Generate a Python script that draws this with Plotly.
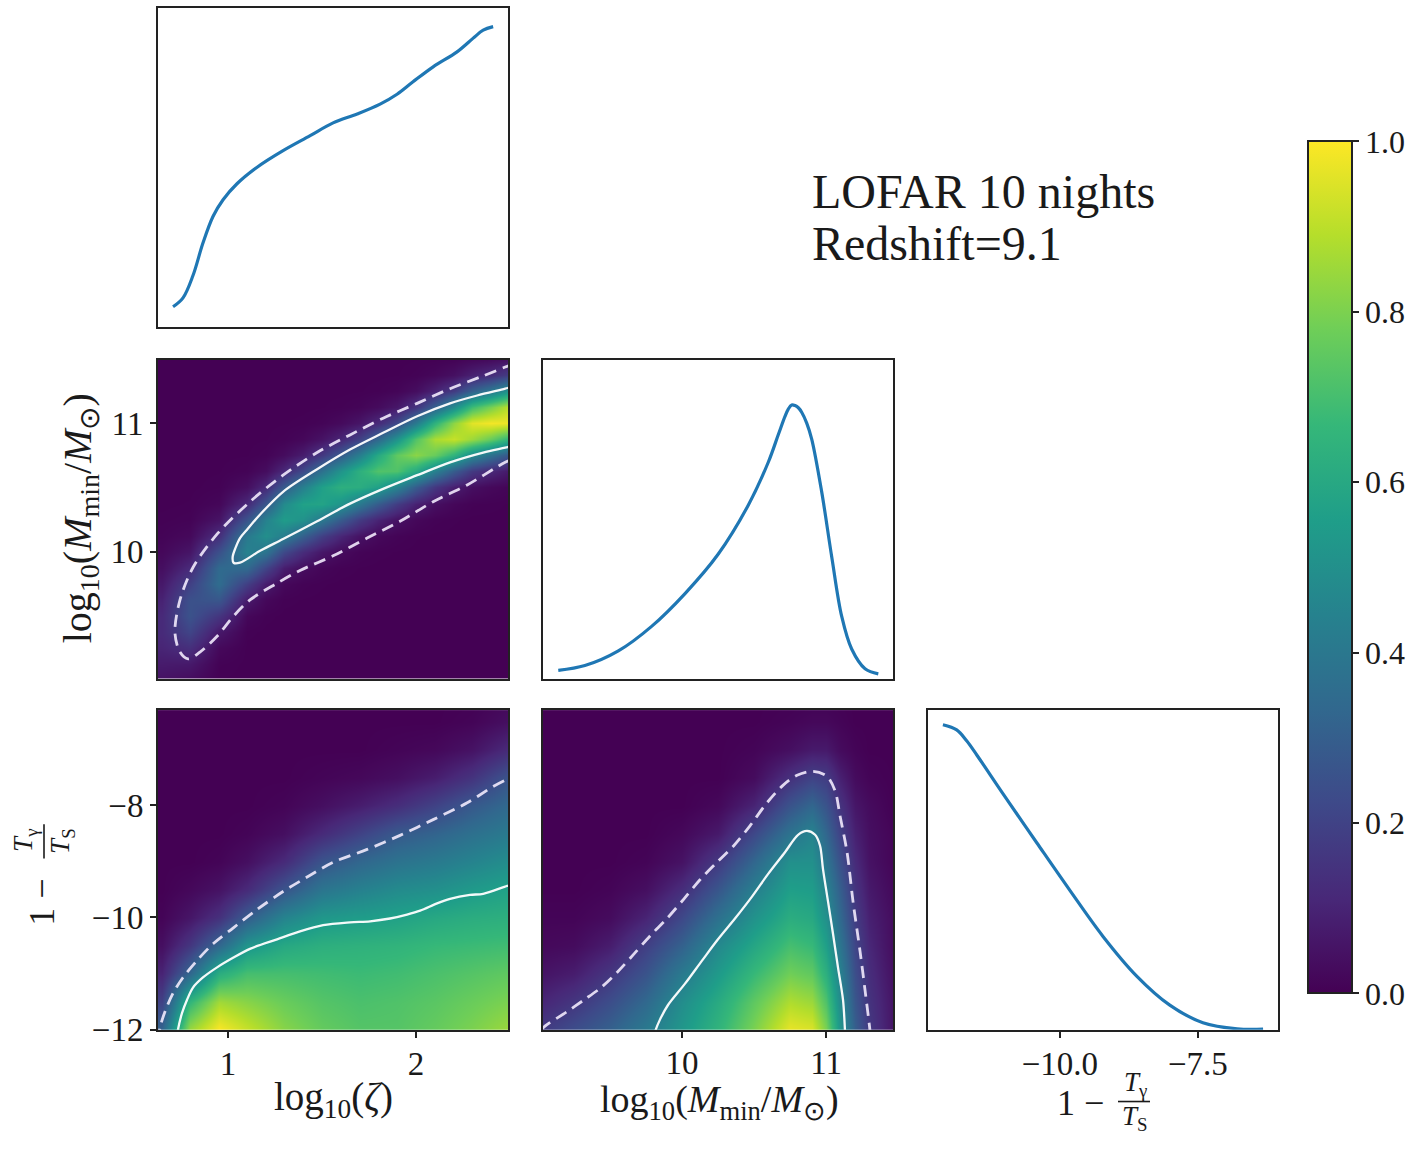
import plotly.graph_objects as go

W, H = 1413, 1152
FONT = "Liberation Serif"
INK = "#1a1a1a"
BLUE = "#1f77b4"

# ---------------- 1D marginals ----------------
zeta_1d_x = [0.708, 0.761, 0.814, 0.867, 0.921, 0.974, 1.048, 1.155, 1.293, 1.437,
             1.559, 1.687, 1.809, 1.899, 1.984, 2.091, 2.218, 2.304, 2.357, 2.41]
zeta_1d_y = [0.062, 0.090, 0.160, 0.262, 0.346, 0.398, 0.448, 0.500, 0.552, 0.599,
             0.639, 0.667, 0.698, 0.729, 0.768, 0.815, 0.862, 0.905, 0.930, 0.941]

mmin_1d_x = [9.141, 9.326, 9.558, 9.789, 10.021, 10.252, 10.461, 10.599, 10.669, 10.715,
             10.738, 10.762, 10.785, 10.808, 10.831, 10.866, 10.901, 10.970, 11.040,
             11.109, 11.178, 11.271, 11.363]
mmin_1d_y = [0.026, 0.041, 0.087, 0.164, 0.267, 0.391, 0.545, 0.679, 0.766, 0.823,
             0.846, 0.859, 0.857, 0.850, 0.836, 0.802, 0.751, 0.586, 0.381,
             0.195, 0.093, 0.031, 0.015]

tt_1d_x = [-12.12, -11.87, -11.69, -11.50, -11.03, -10.42, -9.82, -9.22, -8.61, -8.01,
           -7.41, -6.79, -6.32]
tt_1d_y = [0.954, 0.938, 0.904, 0.858, 0.738, 0.585, 0.436, 0.292, 0.168, 0.077,
           0.022, 0.003, 0.002]

# ---------------- 2D: log zeta vs log Mmin ----------------
zm_x = [0.65, 0.8, 0.95, 1.1, 1.2, 1.3, 1.4, 1.5, 1.6, 1.7, 1.8, 1.9, 2.0, 2.1, 2.2,
        2.3, 2.4, 2.49]
zm_y = [9.0, 9.125, 9.25, 9.375, 9.5, 9.625, 9.75, 9.875, 10.0, 10.125, 10.25, 10.375,
        10.5, 10.625, 10.75, 10.875, 11.0, 11.125, 11.25, 11.375, 11.5]
zm_z = [
    [.045, .028, .001, 0, 0, 0, 0, 0, 0, 0, 0, 0, 0, 0, 0, 0, 0, 0],
    [.074, .068, .005, 0, 0, 0, 0, 0, 0, 0, 0, 0, 0, 0, 0, 0, 0, 0],
    [.102, .133, .021, 0, 0, 0, 0, 0, 0, 0, 0, 0, 0, 0, 0, 0, 0, 0],
    [.119, .207, .066, .003, 0, 0, 0, 0, 0, 0, 0, 0, 0, 0, 0, 0, 0, 0],
    [.116, .255, .154, .018, .003, 0, 0, 0, 0, 0, 0, 0, 0, 0, 0, 0, 0, 0],
    [.095, .249, .27, .07, .019, .003, .001, 0, 0, 0, 0, 0, 0, 0, 0, 0, 0, 0],
    [.066, .193, .352, .185, .074, .019, .006, .002, 0, 0, 0, 0, 0, 0, 0, 0, 0, 0],
    [.038, .119, .341, .342, .203, .078, .034, .013, .004, .001, 0, 0, 0, 0, 0, 0, 0, 0],
    [.019, .058, .247, .446, .382, .221, .124, .06, .026, .009, .003, .001, 0, 0, 0, 0, 0, 0],
    [.008, .022, .133, .406, .496, .423, .305, .188, .104, .049, .021, .008, .002, 0, 0, 0, 0, 0],
    [.003, .007, .053, .26, .444, .547, .507, .4, .283, .172, .097, .046, .018, .006, .002, 0, 0, 0],
    [0, .002, .016, .117, .274, .479, .57, .578, .516, .4, .289, .179, .09, .039, .016, .005, .003, .001],
    [0, 0, .004, .037, .116, .284, .434, .564, .63, .619, .563, .446, .29, .161, .084, .039, .021, .011],
    [0, 0, .001, .008, .034, .114, .224, .373, .516, .634, .72, .719, .607, .436, .291, .171, .112, .07],
    [0, 0, 0, .001, .007, .031, .078, .167, .283, .431, .602, .751, .823, .766, .645, .479, .37, .273],
    [0, 0, 0, 0, .001, .006, .018, .05, .104, .194, .331, .509, .722, .872, .914, .851, .764, .657],
    [0, 0, 0, 0, 0, .001, .003, .01, .026, .058, .119, .222, .411, .644, .828, .957, .985, .975],
    [0, 0, 0, 0, 0, 0, 0, .001, .004, .011, .028, .063, .151, .308, .481, .683, .793, .895],
    [0, 0, 0, 0, 0, 0, 0, 0, 0, .001, .004, .012, .036, .096, .178, .309, .399, .506],
    [0, 0, 0, 0, 0, 0, 0, 0, 0, 0, 0, .001, .006, .019, .042, .089, .126, .177],
    [0, 0, 0, 0, 0, 0, 0, 0, 0, 0, 0, 0, .001, .002, .006, .016, .025, .038],
]
zm_solid_x = [2.52, 2.474, 2.325, 2.181, 2.006, 1.825, 1.649, 1.474, 1.293, 1.171, 1.1, 1.064,
              1.04, 1.025, 1.03, 1.064, 1.171, 1.293, 1.474, 1.649, 1.825, 2.006, 2.181,
              2.357, 2.474, 2.52]
zm_solid_y = [11.285, 11.267, 11.214, 11.153, 11.053, 10.924, 10.794, 10.641, 10.466, 10.29,
              10.17, 10.107, 10.03, 9.96, 9.915, 9.916, 10.008, 10.099, 10.237, 10.374,
              10.489, 10.595, 10.695, 10.771, 10.809, 10.825]
zm_dash_x = [2.52, 2.474, 2.357, 2.181, 2.006, 1.825, 1.649, 1.474, 1.293, 1.117, 0.942,
             0.814, 0.745, 0.718, 0.745, 0.788, 0.851, 0.942, 1.027, 1.117, 1.261, 1.383,
             1.559, 1.74, 1.915, 2.091, 2.272, 2.474, 2.52]
zm_dash_y = [11.46, 11.435, 11.366, 11.267, 11.153, 11.038, 10.908, 10.771, 10.595, 10.389,
             10.137, 9.878, 9.626, 9.374, 9.221, 9.168, 9.221, 9.344, 9.496, 9.626, 9.756,
             9.855, 9.969, 10.107, 10.237, 10.389, 10.519, 10.695, 10.72]

# ---------------- 2D: log zeta vs 1 - Tg/Ts ----------------
zt_x = [0.65, 0.8, 0.95, 1.1, 1.3, 1.5, 1.7, 1.9, 2.1, 2.3, 2.49]
zt_y = [-12, -11.5, -11, -10.5, -10, -9.5, -9, -8.5, -8, -7.5, -7, -6.5, -6]
zt_z = [
    [.32, .85, 1.0, .92, .82, .76, .73, .73, .76, .8, .85],
    [.2, .66, .86, .82, .77, .73, .71, .72, .74, .77, .8],
    [.1, .33, .62, .7, .7, .69, .68, .69, .71, .73, .75],
    [.04, .16, .33, .52, .6, .63, .64, .65, .67, .68, .69],
    [.01, .06, .14, .29, .45, .53, .55, .57, .6, .62, .63],
    [0, .02, .05, .12, .26, .39, .44, .48, .5, .54, .57],
    [0, 0, .01, .04, .12, .26, .33, .38, .41, .45, .49],
    [0, 0, 0, .01, .04, .12, .2, .28, .32, .37, .41],
    [0, 0, 0, 0, .01, .04, .08, .13, .2, .28, .34],
    [0, 0, 0, 0, 0, .01, .02, .04, .08, .15, .26],
    [0, 0, 0, 0, 0, 0, 0, .01, .02, .05, .12],
    [0, 0, 0, 0, 0, 0, 0, 0, 0, .01, .04],
    [0, 0, 0, 0, 0, 0, 0, 0, 0, 0, .01],
]
zt_solid_x = [0.725, 0.734, 0.756, 0.782, 0.814, 0.867, 0.942, 1.027, 1.117, 1.261, 1.383,
              1.506, 1.649, 1.756, 1.862, 1.952, 2.022, 2.112, 2.181, 2.287, 2.357, 2.485, 2.52]
zt_solid_y = [-12.2, -12.0, -11.7, -11.47, -11.25, -11.07, -10.89, -10.72, -10.56, -10.39,
              -10.25, -10.14, -10.09, -10.07, -10.02, -9.95, -9.88, -9.75, -9.67, -9.6,
              -9.58, -9.44, -9.41]
zt_dash_x = [0.63, 0.639, 0.665, 0.708, 0.761, 0.835, 0.921, 1.027, 1.155, 1.293, 1.437,
             1.559, 1.74, 1.915, 2.091, 2.272, 2.41, 2.485, 2.52]
zt_dash_y = [-12.2, -11.96, -11.68, -11.35, -11.07, -10.77, -10.47, -10.19, -9.86, -9.54,
             -9.25, -9.02, -8.79, -8.54, -8.26, -7.96, -7.67, -7.54, -7.5]

# ---------------- 2D: log Mmin vs 1 - Tg/Ts ----------------
mt_x = [9.0, 9.25, 9.5, 9.75, 10.0, 10.25, 10.5, 10.75, 10.9, 11.0, 11.1, 11.2, 11.3, 11.47]
mt_y = [-12, -11.5, -11, -10.5, -10, -9.5, -9, -8.5, -8, -7.5, -7, -6.5, -6]
mt_z = [
    [.17, .24, .31, .41, .53, .65, .8, .97, .95, .8, .52, .3, .17, .05],
    [.1, .16, .24, .34, .49, .61, .75, .88, .85, .72, .48, .27, .15, .05],
    [.05, .08, .16, .26, .41, .54, .67, .78, .75, .63, .44, .24, .13, .04],
    [.02, .03, .08, .19, .31, .47, .59, .7, .67, .56, .39, .21, .11, .03],
    [.01, .01, .03, .1, .22, .37, .51, .62, .6, .5, .34, .18, .09, .03],
    [0, 0, .01, .04, .13, .27, .43, .56, .55, .45, .3, .15, .07, .02],
    [0, 0, 0, .01, .05, .17, .33, .5, .5, .39, .25, .12, .05, .01],
    [0, 0, 0, 0, .02, .07, .22, .38, .45, .33, .2, .09, .04, .01],
    [0, 0, 0, 0, 0, .02, .1, .26, .33, .26, .15, .06, .03, 0],
    [0, 0, 0, 0, 0, 0, .03, .14, .2, .18, .09, .03, .01, 0],
    [0, 0, 0, 0, 0, 0, .01, .04, .07, .07, .03, .01, 0, 0],
    [0, 0, 0, 0, 0, 0, 0, .01, .02, .02, .01, 0, 0, 0],
    [0, 0, 0, 0, 0, 0, 0, 0, 0, 0, 0, 0, 0, 0],
]
mt_solid_x = [9.80, 9.8125, 9.847, 9.903, 10.021, 10.139, 10.25, 10.368, 10.486, 10.597,
              10.715, 10.806, 10.868, 10.924, 10.958, 10.979, 11.014, 11.049, 11.083,
              11.118, 11.132, 11.135]
mt_solid_y = [-12.2, -12.04, -11.82, -11.56, -11.18, -10.77, -10.39, -10.02, -9.63, -9.23,
              -8.84, -8.53, -8.46, -8.53, -8.72, -9.14, -9.72, -10.3, -10.89, -11.47,
              -12.04, -12.2]
mt_dash_x = [9.02, 9.0625, 9.201, 9.319, 9.4375, 9.549, 9.667, 9.778, 9.896, 10.014,
             10.125, 10.243, 10.361, 10.472, 10.59, 10.701, 10.799, 10.91, 11.007, 11.063,
             11.097, 11.146, 11.1875, 11.236, 11.271, 11.306, 11.31]
mt_dash_y = [-12.0, -11.91, -11.68, -11.47, -11.25, -10.98, -10.65, -10.33, -10.02, -9.67,
             -9.33, -9.02, -8.72, -8.37, -7.96, -7.65, -7.47, -7.4, -7.49, -7.75, -8.19,
             -8.84, -9.72, -10.6, -11.3, -12.04, -12.2]

# tick labels
zeta_ticks = [1, 2]
zeta_ticktext = ["1", "2"]
mmin_ticks = [10, 11]
mmin_ticktext = ["10", "11"]
tt_yticks = [-12, -10, -8]
tt_yticktext = ["\u221212", "\u221210", "\u22128"]
tt_xticks = [-10, -7.5]
tt_xticktext = ["\u221210.0", "\u22127.5"]
cb_ticks = [0, 0.2, 0.4, 0.6, 0.8, 1.0]
cb_ticktext = ["0.0", "0.2", "0.4", "0.6", "0.8", "1.0"]

# ---------------- layout helpers ----------------
def px_x(p):
    return p / W

def px_y(p):
    return 1 - p / H

COLS = [(158, 508), (543, 893), (928, 1278)]
ROWS = [(8, 332), (366, 690), (722, 1047)]

def dom_x(c):
    return [px_x(COLS[c][0]), px_x(COLS[c][1])]

def dom_y(r):
    return [px_y(ROWS[r][1]), px_y(ROWS[r][0])]

ZETA_R = [0.628, 2.489]
MMIN_R_Y = [9.015, 11.49]
MMIN_R_X = [9.035, 11.465]
TT_R_Y = [-12.0, -6.31]
TT_R_X = [-12.39, -6.05]

tickfont = dict(family=FONT, size=33, color=INK)

def axis(domain, rng, anchor, tickvals=None, ticktext=None, standoff=None):
    d = dict(domain=domain, range=rng, anchor=anchor, showline=True, mirror=True,
             linecolor="#222", linewidth=2, showgrid=False, zeroline=False,
             fixedrange=True)
    if tickvals is None:
        d.update(ticks="", showticklabels=False)
    else:
        d.update(tickmode="array", tickvals=tickvals, ticktext=ticktext, ticks="outside",
                 ticklen=6, tickwidth=1.5, tickcolor="#222", showticklabels=True,
                 tickfont=tickfont)
        if standoff is not None:
            d.update(ticklabelstandoff=standoff)
    return d

fig = go.Figure()

# 2D heatmaps
fig.add_trace(go.Heatmap(x=zm_x, y=zm_y, z=zm_z, coloraxis="coloraxis", zsmooth="best",
                         xaxis="x2", yaxis="y2", hoverinfo="skip"))
fig.add_trace(go.Heatmap(x=zt_x, y=zt_y, z=zt_z, coloraxis="coloraxis", zsmooth="best",
                         xaxis="x4", yaxis="y4", hoverinfo="skip"))
fig.add_trace(go.Heatmap(x=mt_x, y=mt_y, z=mt_z, coloraxis="coloraxis", zsmooth="best",
                         xaxis="x5", yaxis="y5", hoverinfo="skip"))

solid = dict(color="rgba(255,255,255,0.95)", width=2.3, shape="spline", smoothing=0.9)
dashed = dict(color="rgba(246,238,255,0.88)", width=2.8, dash="12px,7px", shape="spline",
              smoothing=0.9)

for xs, ys, ax in [(zm_solid_x, zm_solid_y, "2"), (zt_solid_x, zt_solid_y, "4"),
                   (mt_solid_x, mt_solid_y, "5")]:
    fig.add_trace(go.Scatter(x=xs, y=ys, mode="lines", line=solid, xaxis="x" + ax,
                             yaxis="y" + ax, hoverinfo="skip", showlegend=False))
for xs, ys, ax in [(zm_dash_x, zm_dash_y, "2"), (zt_dash_x, zt_dash_y, "4"),
                   (mt_dash_x, mt_dash_y, "5")]:
    fig.add_trace(go.Scatter(x=xs, y=ys, mode="lines", line=dashed, xaxis="x" + ax,
                             yaxis="y" + ax, hoverinfo="skip", showlegend=False))

# 1D curves
oned = dict(color=BLUE, width=3.2, shape="spline", smoothing=1.0)
fig.add_trace(go.Scatter(x=zeta_1d_x, y=zeta_1d_y, mode="lines", line=oned,
                         xaxis="x", yaxis="y", showlegend=False, hoverinfo="skip"))
fig.add_trace(go.Scatter(x=mmin_1d_x, y=mmin_1d_y, mode="lines", line=oned,
                         xaxis="x3", yaxis="y3", showlegend=False, hoverinfo="skip"))
fig.add_trace(go.Scatter(x=tt_1d_x, y=tt_1d_y, mode="lines", line=oned,
                         xaxis="x6", yaxis="y6", showlegend=False, hoverinfo="skip"))

fig.update_layout(
    width=W, height=H, margin=dict(l=0, r=0, t=0, b=0),
    paper_bgcolor="white", plot_bgcolor="white", showlegend=False,
    font=dict(family=FONT, color=INK),
    xaxis=axis(dom_x(0), ZETA_R, "y"),
    yaxis=axis(dom_y(0), [0, 1], "x"),
    xaxis2=axis(dom_x(0), ZETA_R, "y2"),
    yaxis2=axis(dom_y(1), MMIN_R_Y, "x2", mmin_ticks, mmin_ticktext),
    xaxis3=axis(dom_x(1), MMIN_R_X, "y3"),
    yaxis3=axis(dom_y(1), [0, 1], "x3"),
    xaxis4=axis(dom_x(0), ZETA_R, "y4", zeta_ticks, zeta_ticktext, standoff=-2),
    yaxis4=axis(dom_y(2), TT_R_Y, "x4", tt_yticks, tt_yticktext),
    xaxis5=axis(dom_x(1), MMIN_R_X, "y5", mmin_ticks, mmin_ticktext, standoff=-3),
    yaxis5=axis(dom_y(2), TT_R_Y, "x5"),
    xaxis6=axis(dom_x(2), TT_R_X, "y6", tt_xticks, tt_xticktext, standoff=-2),
    yaxis6=axis(dom_y(2), [0, 1], "x6"),
    coloraxis=dict(
        colorscale="Viridis", cmin=0, cmax=1,
        colorbar=dict(
            x=px_x(1308), xanchor="left", xpad=0,
            y=px_y(577), yanchor="middle", ypad=0,
            len=866 / H, lenmode="fraction", thickness=44, thicknessmode="pixels",
            outlinewidth=2, outlinecolor="#222",
            tickmode="array", tickvals=cb_ticks, ticktext=cb_ticktext,
            ticks="outside", ticklen=6, tickwidth=1.5, tickcolor="#222",
            tickfont=dict(family=FONT, size=32, color=INK),
        ),
    ),
)

ann = []
def label(text, x, y, size=38, angle=0, xanchor="center", yanchor="middle"):
    ann.append(dict(text=text, x=px_x(x), y=px_y(y), xref="paper", yref="paper",
                    showarrow=False, textangle=angle, xanchor=xanchor, yanchor=yanchor,
                    borderpad=0, font=dict(family=FONT, size=size, color=INK)))

label("log<sub>10</sub>(<i>\u03b6</i>)", 333, 1118, size=39)
label("log<sub>10</sub>(<i>M</i><sub>min</sub>/<i>M</i><sub>\u2299</sub>)", 719, 1120, size=38)
label("log<sub>10</sub>(<i>M</i><sub>min</sub>/<i>M</i><sub>\u2299</sub>)", 80, 527, size=40,
      angle=-90)

# 1 - Tg/Ts (x label of the bottom-right panel)
label("1 \u2212", 1080, 1121, size=36)
label("<i>T</i><sub>\u03b3</sub>", 1135, 1102, size=27)
label("<i>T</i><sub>S</sub>", 1135, 1137, size=27)
# 1 - Tg/Ts (y label of the bottom-left panel)
label("1 \u2212", 42, 918, size=36, angle=-90)
label("<i>T</i><sub>\u03b3</sub>", 25, 855, size=27, angle=-90)
label("<i>T</i><sub>S</sub>", 62, 855, size=27, angle=-90)

label("LOFAR 10 nights", 811, 195, size=48, xanchor="left")
label("Redshift=9.1", 811, 248, size=48, xanchor="left")

fig.update_layout(annotations=ann)

shapes = [
    dict(type="line", xref="paper", yref="paper", x0=px_x(1118), x1=px_x(1150),
         y0=px_y(1120), y1=px_y(1120), line=dict(color=INK, width=1.6)),
    dict(type="line", xref="paper", yref="paper", x0=px_x(44), x1=px_x(44),
         y0=px_y(838), y1=px_y(873), line=dict(color=INK, width=1.6)),
]
fig.update_layout(shapes=shapes)

fig.write_html("out.html")
